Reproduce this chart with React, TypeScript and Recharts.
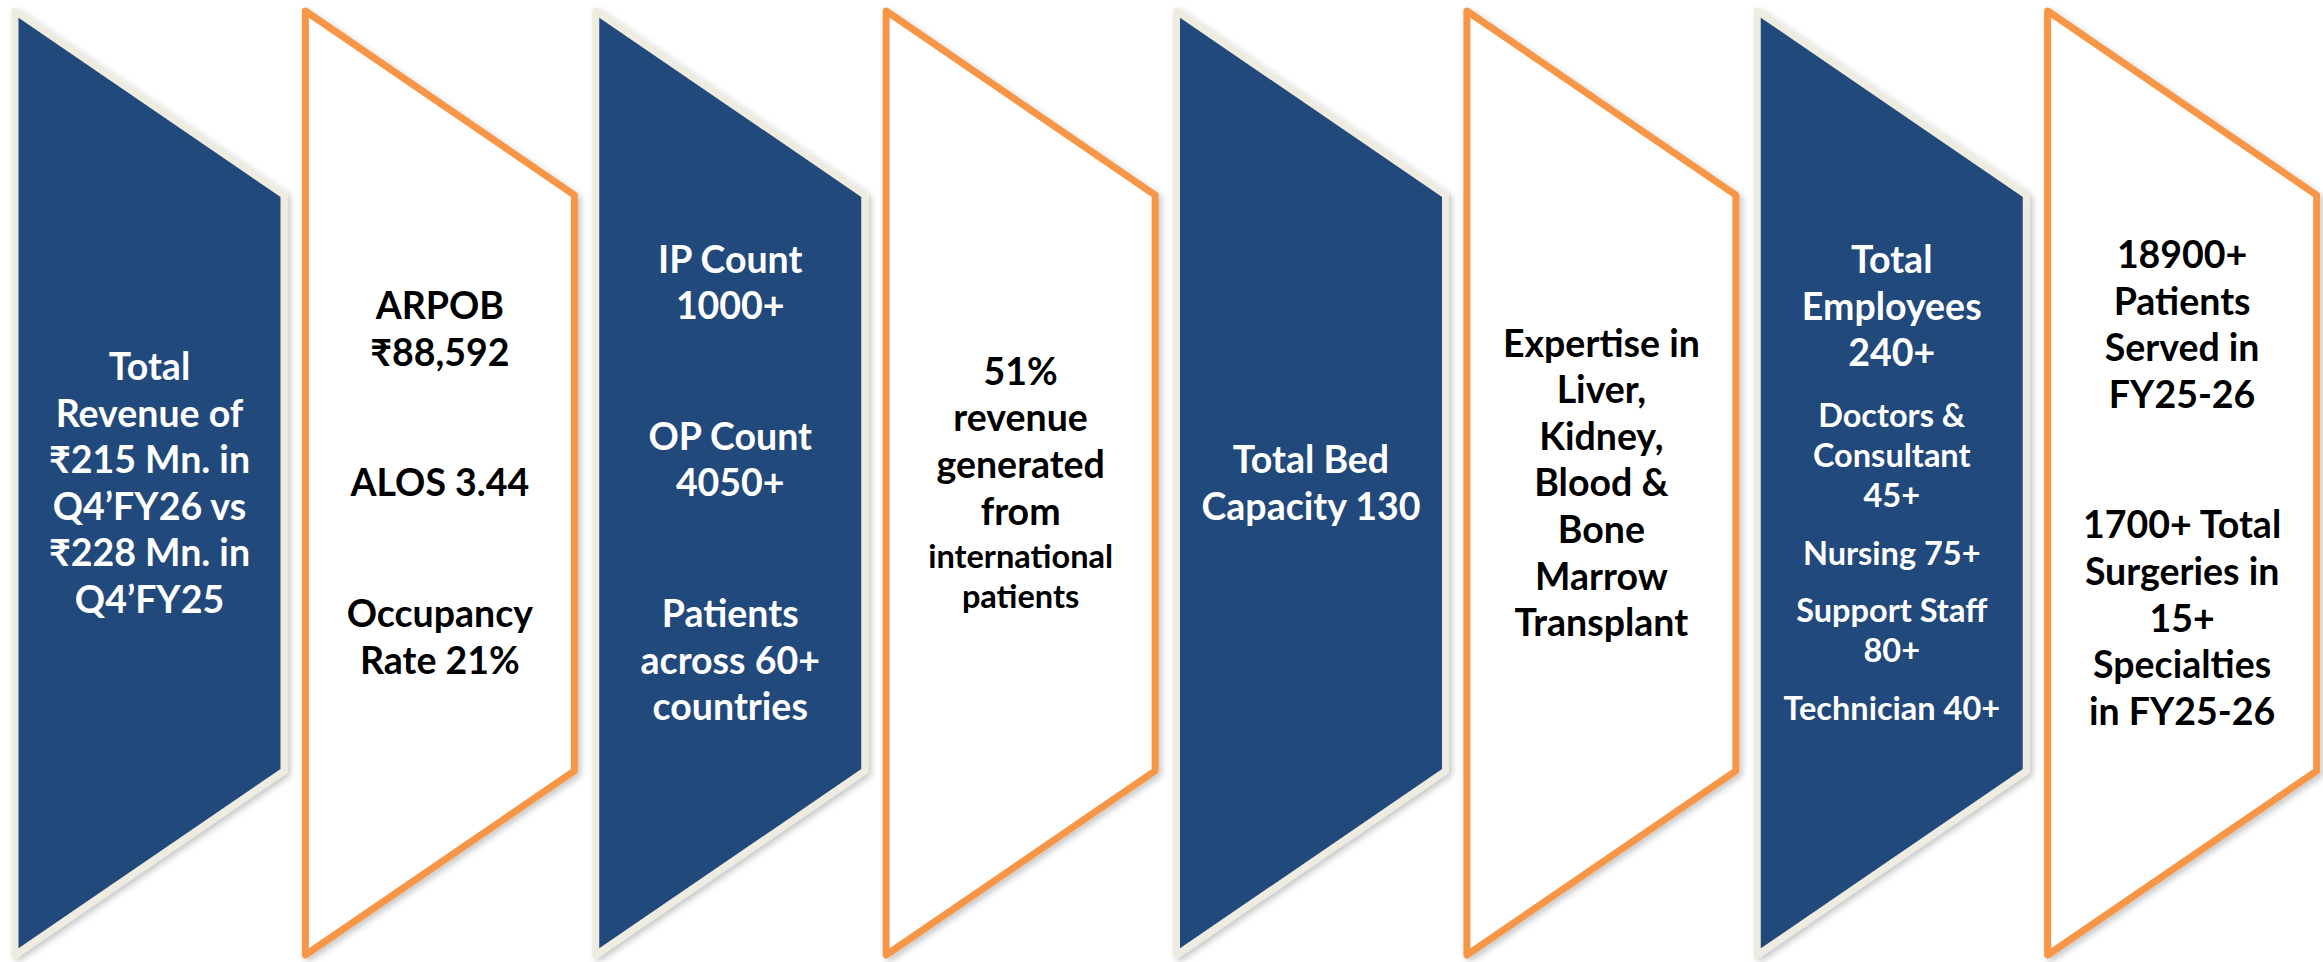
import { BarChart, Bar, XAxis, YAxis, LabelList } from "recharts"

// one panel per category, every panel spans the full height
const categories = [
  "Revenue",
  "Operations",
  "Patient Volume",
  "International",
  "Beds",
  "Expertise",
  "Employees",
  "Patients & Surgeries",
]
const panelValues = [1, 1, 1, 1, 1, 1, 1, 1]

// text for each panel: paragraphs of lines
const panelLines: string[][][] = [
  [["Total", "Revenue of", "₹215 Mn. in", "Q4’FY26 vs", "₹228 Mn. in", "Q4’FY25"]],
  [["ARPOB", "₹88,592"], ["ALOS 3.44"], ["Occupancy", "Rate 21%"]],
  [["IP Count", "1000+"], ["OP Count", "4050+"], ["Patients", "across 60+", "countries"]],
  [["51%", "revenue", "generated", "from"], ["international", "patients"]],
  [["Total Bed", "Capacity 130"]],
  [["Expertise in", "Liver,", "Kidney,", "Blood &", "Bone", "Marrow", "Transplant"]],
  [
    ["Total", "Employees", "240+"],
    ["Doctors &", "Consultant", "45+"],
    ["Nursing 75+"],
    ["Support Staff", "80+"],
    ["Technician 40+"],
  ],
  [["18900+", "Patients", "Served in", "FY25-26"], ["1700+ Total", "Surgeries in", "15+", "Specialties", "in FY25-26"]],
]

const data = categories.map((name, i) => ({ name, value: panelValues[i] }))

// layout / style
const BLUE = "#21497B"
const BEIGE = "#EEECE1"
const ORANGE = "#F79646"
const SLANT = 0.195
const FONT = "Lato, 'Noto Sans', 'DejaVu Sans', sans-serif"
const BIG = 37.5
const SMALL = 32.5
const CAP = 0.7165
const ADVANCE: Record<number, number> = { [BIG]: 46.6, [SMALL]: 40 }
const GROUP_GAP = [84, 84, 84, 0, 84, 84, 17.5, 84]
const SMALL_FROM = [99, 99, 99, 1, 99, 99, 1, 99]

function PanelShape(props: any) {
  const { x, y, width, height, index } = props
  const dy = height * SLANT
  const pts = `${x},${y} ${x + width},${y + dy} ${x + width},${y + height - dy} ${x},${y + height}`
  const dark = index % 2 === 0
  return (
    <g>
      <defs>
        <filter id={`shadow-${index}`} x="-10%" y="-10%" width="125%" height="125%">
          <feDropShadow dx="3" dy="3" stdDeviation="3" floodColor="#000" floodOpacity="0.22" />
        </filter>
      </defs>
      <polygon
        points={pts}
        fill={dark ? BLUE : "#FFFFFF"}
        stroke={dark ? BEIGE : ORANGE}
        strokeWidth={7}
        strokeLinejoin="round"
        filter={`url(#shadow-${index})`}
      />
    </g>
  )
}

function PanelText(props: any) {
  const { x, y, width, height, index } = props
  const groups = panelLines[index] ?? []
  const lines: { t: string; size: number; base: number }[] = []
  let cur = 0
  let prev = BIG
  groups.forEach((g, gi) => {
    const size = gi >= SMALL_FROM[index] ? SMALL : BIG
    g.forEach((t, li) => {
      if (lines.length) {
        cur += (ADVANCE[prev] + ADVANCE[size]) / 2
        if (li === 0) cur += GROUP_GAP[index]
      }
      lines.push({ t, size, base: cur })
      prev = size
    })
  })
  if (!lines.length) return null
  const top = lines[0].base - CAP * lines[0].size
  const bottom = lines[lines.length - 1].base
  const shift = y + height / 2 - (top + bottom) / 2
  const cx = x + width / 2
  const color = index % 2 === 0 ? "#FFFFFF" : "#000000"
  return (
    <g>
      {lines.map((l, i) => (
        <text
          key={i}
          x={cx}
          y={l.base + shift}
          textAnchor="middle"
          fontFamily={FONT}
          fontWeight={700}
          fontSize={l.size}
          fill={color}
        >
          {l.t}
        </text>
      ))}
    </g>
  )
}

export default function App() {
  return (
    <div style={{ width: 2323, height: 962, overflow: "hidden", background: "#FFFFFF" }}>
      <style>{"body{margin:0;}"}</style>
      <BarChart
        width={2327}
        height={962}
        data={data}
        margin={{ top: 11, right: 0, bottom: 7, left: 4 }}
      >
        <XAxis dataKey="name" hide />
        <YAxis hide domain={[0, 1]} />
        <Bar dataKey="value" barSize={269} isAnimationActive={false} shape={PanelShape}>
          <LabelList dataKey="name" content={PanelText} />
        </Bar>
      </BarChart>
    </div>
  )
}
